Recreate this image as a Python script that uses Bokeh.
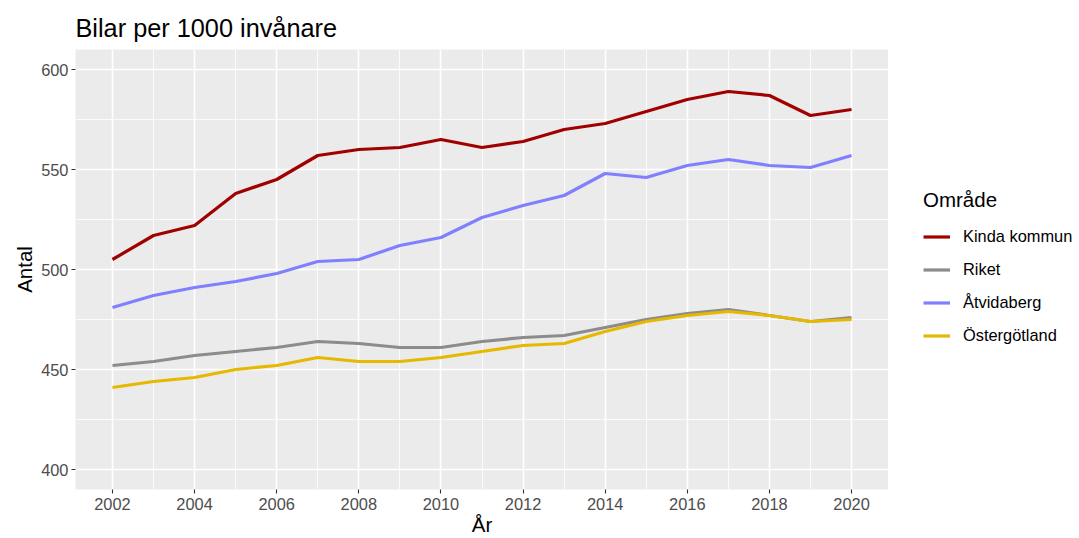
from bokeh.plotting import figure
from bokeh.models import FixedTicker, Legend, LegendItem, Range1d, ColumnDataSource
from bokeh.layouts import row
from bokeh.embed import file_html
from bokeh.resources import INLINE

years = list(range(2002, 2021))
kinda = [505, 517, 522, 538, 545, 557, 560, 561, 565, 561, 564, 570, 573, 579, 585, 589, 587, 577, 580]
riket = [452, 454, 457, 459, 461, 464, 463, 461, 461, 464, 466, 467, 471, 475, 478, 480, 477, 474, 476]
atvidaberg = [481, 487, 491, 494, 498, 504, 505, 512, 516, 526, 532, 537, 548, 546, 552, 555, 552, 551, 557]
ostergotland = [441, 444, 446, 450, 452, 456, 454, 454, 456, 459, 462, 463, 469, 474, 477, 479, 477, 474, 475]

series_names = ["Kinda kommun", "Riket", "Åtvidaberg", "Östergötland"]
series_values = [kinda, riket, atvidaberg, ostergotland]
series_colors = ["#A00000", "#8C8C8C", "#8080FF", "#E6B800"]

x_major = [2002, 2004, 2006, 2008, 2010, 2012, 2014, 2016, 2018, 2020]
x_minor = [2003, 2005, 2007, 2009, 2011, 2013, 2015, 2017, 2019]
y_major = [400, 450, 500, 550, 600]
y_minor = [425, 475, 525, 575]

FONT = "Liberation Sans"

p = figure(width=888, height=538, output_backend="svg", toolbar_location=None,
           x_range=Range1d(2001.1, 2020.9), y_range=Range1d(390, 610),
           min_border_left=75, min_border_right=0, min_border_top=49, min_border_bottom=48,
           title="Bilar per 1000 invånare", x_axis_label="År", y_axis_label="Antal")

p.title.text_font = FONT
p.title.text_font_size = "25.3px"
p.title.text_font_style = "normal"
p.title.text_color = "black"
p.title.align = "left"
p.title.standoff = 15

p.background_fill_color = "#EBEBEB"
p.border_fill_color = "white"
p.outline_line_color = None

p.xaxis.ticker = FixedTicker(ticks=x_major, minor_ticks=x_minor)
p.yaxis.ticker = FixedTicker(ticks=y_major, minor_ticks=y_minor)

for ax in (p.xaxis[0], p.yaxis[0]):
    ax.axis_line_color = None
    ax.major_tick_line_color = "#333333"
    ax.major_tick_line_width = 1.1
    ax.major_tick_out = 4
    ax.major_tick_in = 0
    ax.minor_tick_line_color = None
    ax.major_label_text_font = FONT
    ax.major_label_text_font_size = "16.4px"
    ax.major_label_text_color = "#4D4D4D"
    ax.major_label_standoff = 3
    ax.axis_label_text_font = FONT
    ax.axis_label_text_font_size = "20.5px"
    ax.axis_label_text_font_style = "normal"
    ax.axis_label_text_color = "black"
    ax.axis_label_standoff = 2
p.xaxis[0].major_label_standoff = 4
p.xaxis[0].axis_label_standoff = 0

for g in (p.xgrid[0], p.ygrid[0]):
    g.grid_line_color = "white"
    g.grid_line_width = 1.6
    g.minor_grid_line_color = "white"
    g.minor_grid_line_width = 0.8

for vals, col in zip(series_values, series_colors):
    src = ColumnDataSource(dict(x=years, y=vals))
    p.line("x", "y", source=src, line_color=col, line_width=3.2)

# Legend panel (separate figure to the right; its own lines lie outside its view)
p2 = figure(width=191, height=538, output_backend="svg", toolbar_location=None,
            x_range=Range1d(0, 1), y_range=Range1d(0, 1),
            x_axis_type=None, y_axis_type=None,
            min_border_left=0, min_border_right=0, min_border_top=0, min_border_bottom=0)
p2.grid.visible = False
p2.outline_line_color = None
p2.background_fill_color = "white"
p2.border_fill_color = "white"

leg_renderers = []
for vals, col in zip(series_values, series_colors):
    src = ColumnDataSource(dict(x=years, y=vals))
    leg_renderers.append(p2.line("x", "y", source=src, line_color=col, line_width=3.2))

items = [LegendItem(label=n, renderers=[r]) for n, r in zip(series_names, leg_renderers)]
legend = Legend(items=items, title="Område", location=(35, 137),
                padding=0, margin=0, spacing=0,
                glyph_width=27, glyph_height=33, label_standoff=13,
                label_text_font=FONT, label_text_font_size="16.4px", label_text_color="black",
                title_text_font=FONT, title_text_font_size="20.5px", title_text_font_style="normal",
                title_text_color="black", title_standoff=8,
                background_fill_alpha=0, border_line_alpha=0)
p2.add_layout(legend)

layout = row(p, p2)
open("out.html", "w").write(file_html(layout, INLINE))
